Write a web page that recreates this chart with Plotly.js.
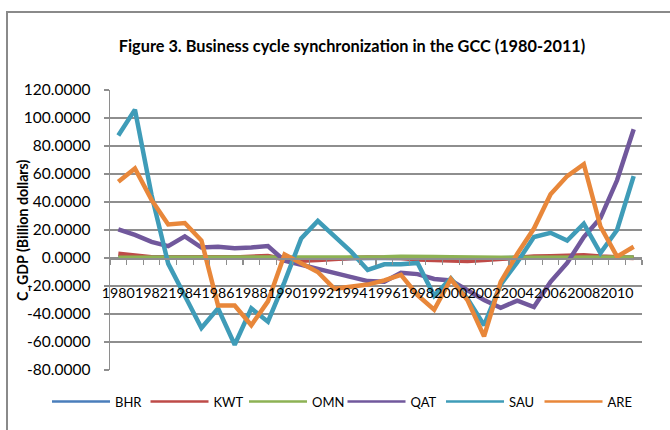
<!DOCTYPE html>
<html>
<head>
<meta charset="utf-8">
<script src="https://cdn.plot.ly/plotly-3.0.1.min.js"></script>
<style>
html,body{margin:0;padding:0;background:#ffffff;}
#chart{width:670px;height:430px;}
</style>
</head>
<body>
<div id="chart"></div>
<script>
var years = ['1980','1981','1982','1983','1984','1985','1986','1987','1988','1989','1990','1991','1992','1993','1994','1995','1996','1997','1998','1999','2000','2001','2002','2003','2004','2005','2006','2007','2008','2009','2010','2011'];
var xTickLabels = ['1980','','1982','','1984','','1986','','1988','','1990','','1992','','1994','','1996','','1998','','2000','','2002','','2004','','2006','','2008','','2010',''];
var yTickValues = [-80,-60,-40,-20,0,20,40,60,80,100,120];
var yTickLabels = ['-80.0000','-60.0000','-40.0000','-20.0000','0.0000','20.0000','40.0000','60.0000','80.0000','100.0000','120.0000'];
var yTitle = 'C_GDP (Billion dollars)';
var chartTitle = 'Figure 3. Business cycle synchronization in the GCC (1980-2011)';

var seriesNames = ['BHR','KWT','OMN','QAT','SAU','ARE'];
var seriesColors = ['#4A7EBB','#BE4B48','#8DB254','#71589C','#3F9CB8','#E8873A'];

var BHR = [0.6,0.5,0.3,0.2,0.3,0.4,0.2,0.1,0.3,0.5,-0.3,-0.5,-0.3,-0.1,0,0.1,0.1,0.2,-0.2,-0.4,-0.5,-0.6,-0.4,-0.1,0.2,0.4,0.5,0.6,0.8,0.4,0.2,0.3];
var KWT = [3,1.5,0.5,0.3,0.5,0.8,0.5,0.3,1.2,1.5,-1,-2,-1.5,-0.5,0,0.3,0.2,0,-1,-1.5,-2,-2.2,-1.5,-0.5,0.5,1,1.2,1.5,2,1,0.5,0];
var OMN = [0.2,0.2,0.1,0.2,0.3,0.2,0.1,0.1,0.2,0.3,0,-0.2,-0.1,0.2,0.4,0.5,0.6,0.9,1.2,0.8,0.5,0.2,0,0.1,0.2,0.3,0.4,0.4,0.5,0.6,0.5,0.4];
var QAT = [20.5,16.5,11.5,8.5,15.5,7.5,8,7,7.5,8.5,-2,-5,-7.5,-11,-14,-16.5,-17,-10.5,-11.5,-15,-16,-23,-30,-35.5,-30.5,-35,-17,-3.5,15,28.5,55.5,92];
var SAU = [87.5,106,45,-4,-27,-50,-36,-62,-36,-45.5,-17,14,26.5,15,4.5,-8.5,-4.5,-4.5,-3.5,-27,-14.5,-29,-48,-19,-3,15,18,12.5,24.5,3.5,20,58.5];
var ARE = [54.5,64,41.5,24,25,12.5,-34,-34,-48,-31,2.5,-4,-10,-22,-20.5,-19,-16,-12,-26.5,-37,-15,-30,-56,-17,3,21,45.5,58.5,67,22.5,1,8];

var seriesValues = [BHR,KWT,OMN,QAT,SAU,ARE];

var FONT = 'Lato, "Open Sans", sans-serif';
var GRID = '#8e8e8e';

var traces = [];
for (var i = 0; i < seriesNames.length; i++) {
  traces.push({
    type: 'scatter', mode: 'lines', x: years, y: seriesValues[i],
    name: seriesNames[i], showlegend: false, hoverinfo: 'skip',
    line: {color: seriesColors[i], width: 4.5}
  });
}
for (var j = 0; j < seriesNames.length; j++) {
  traces.push({
    type: 'scatter', mode: 'lines', x: [null], y: [null],
    name: seriesNames[j], showlegend: true, hoverinfo: 'skip',
    line: {color: seriesColors[j], width: 2.5}
  });
}

var layout = {
  width: 670, height: 430,
  margin: {l: 110, r: 28, t: 90, b: 60, autoexpand: false},
  paper_bgcolor: '#ffffff', plot_bgcolor: '#ffffff',
  font: {family: FONT, size: 14, color: '#000000'},
  title: {
    text: chartTitle,
    font: {family: FONT, size: 16.3, weight: 'bold', color: '#000000'},
    x: 0.5254, xref: 'container', xanchor: 'center',
    y: 0.893, yref: 'container', yanchor: 'middle'
  },
  xaxis: {
    type: 'category', categoryorder: 'array', categoryarray: years,
    range: [-0.5, 31.5],
    anchor: 'free', position: 0.4,
    showline: true, linecolor: GRID, linewidth: 1.5,
    showgrid: false, zeroline: false,
    ticks: 'outside', tickson: 'boundaries', ticklen: 5, tickcolor: GRID, tickwidth: 1.2,
    tickmode: 'array', tickvals: years, ticktext: xTickLabels,
    tickangle: 0, ticklabelstandoff: 21,
    tickfont: {family: FONT, size: 14.2, color: '#000000'}
  },
  yaxis: {
    range: [-80, 120],
    tickmode: 'array', tickvals: yTickValues, ticktext: yTickLabels,
    showgrid: true, gridcolor: GRID, gridwidth: 1.5,
    showline: true, linecolor: GRID, linewidth: 1.5,
    zeroline: false,
    ticks: 'outside', ticklen: 5, tickcolor: GRID, tickwidth: 1.2,
    ticklabelstandoff: 10,
    tickfont: {family: FONT, size: 15.5, color: '#000000'}
  },
  annotations: [{
    text: yTitle, textangle: -90, showarrow: false,
    xref: 'paper', yref: 'paper', x: -0.1654, y: 0.5,
    xanchor: 'center', yanchor: 'middle',
    font: {family: FONT, size: 14.2, weight: 'bold', color: '#000000'}
  }],
  showlegend: true,
  legend: {
    orientation: 'h', x: -0.1184, xanchor: 'left', y: -0.113, yanchor: 'middle',
    font: {family: FONT, size: 13, color: '#000000'},
    itemwidth: 58, entrywidth: 25.5, entrywidthmode: 'pixels',
    bgcolor: 'rgba(0,0,0,0)', traceorder: 'normal', tracegroupgap: 0
  },
  shapes: [{
    type: 'rect', xref: 'paper', yref: 'paper',
    x0: -0.1936, x1: 1.2, y0: -0.5, y1: 1.2786,
    line: {color: '#8a8a8a', width: 2}, fillcolor: 'rgba(0,0,0,0)', layer: 'below'
  }]
};

Plotly.newPlot('chart', traces, layout, {displayModeBar: false, staticPlot: true});
</script>
</body>
</html>
